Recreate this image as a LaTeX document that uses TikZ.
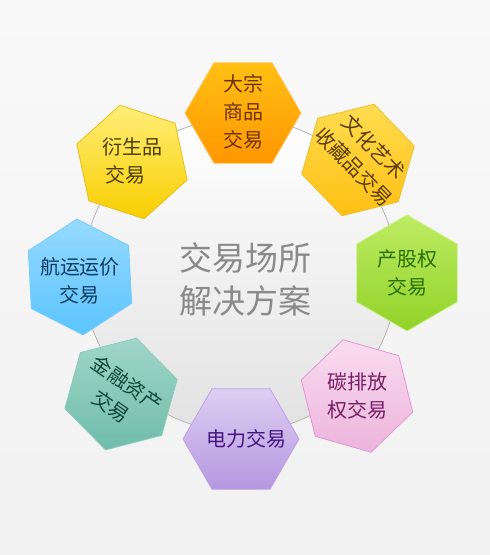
\documentclass[tikz,border=0pt]{standalone}
\usepackage{fontspec}
\newfontfamily\cjk{Noto Sans CJK SC}
\usetikzlibrary{shapes.geometric}

\definecolor{bgtop}{HTML}{F9F9F9}
\definecolor{bgbot}{HTML}{F1F1F1}
\definecolor{ringbot}{HTML}{E2E2E2}
\definecolor{ringline}{HTML}{AEAEAE}
\definecolor{midgray}{HTML}{8A8A8A}

\begin{document}
\begin{tikzpicture}[x=1pt,y=-1pt,
    hexa/.style={regular polygon,regular polygon sides=6,minimum size=116pt,inner sep=0pt,line width=0.8pt},
    hextext/.style={font=\cjk\fontsize{20}{28}\selectfont,align=center,inner sep=0pt}]
  \useasboundingbox (0,0) rectangle (490,555);
  \shade[top color=bgtop,bottom color=bgbot] (0,0) rectangle (490,555);
  \shadedraw[top color=white,bottom color=ringbot,draw=ringline,line width=0.7pt] (240,275) circle (157pt);

  % hexagons round the ring
  \node[hexa,top color={rgb,255:red,255;green,192;blue,20},bottom color={rgb,255:red,255;green,150;blue,0},draw={rgb,255:red,255;green,196;blue,90}] (dazong) at (243,113) {};
  \node[hexa,shape border rotate=14,top color={rgb,255:red,255;green,220;blue,80},bottom color={rgb,255:red,255;green,192;blue,20},draw={rgb,255:red,240;green,190;blue,40}] (wenhua) at (358,160) {};
  \node[hexa,shape border rotate=30,top color={rgb,255:red,190;green,236;blue,100},bottom color={rgb,255:red,145;green,210;blue,40},draw={rgb,255:red,200;green,240;blue,130}] (chanquan) at (407,273) {};
  \node[hexa,shape border rotate=-16,top color={rgb,255:red,250;green,220;blue,240},bottom color={rgb,255:red,236;green,180;blue,220},draw={rgb,255:red,228;green,150;blue,210}] (tanpai) at (357,396) {};
  \node[hexa,top color={rgb,255:red,222;green,206;blue,242},bottom color={rgb,255:red,180;green,152;blue,224},draw={rgb,255:red,190;green,160;blue,235}] (dianli) at (241,439) {};
  \node[hexa,shape border rotate=14.5,top color={rgb,255:red,160;green,214;blue,200},bottom color={rgb,255:red,112;green,188;blue,170},draw={rgb,255:red,140;green,205;blue,190}] (jinrong) at (121,394) {};
  \node[hexa,shape border rotate=33,top color={rgb,255:red,150;green,218;blue,255},bottom color={rgb,255:red,92;green,196;blue,255},draw={rgb,255:red,120;green,205;blue,255}] (hangyun) at (80,277) {};
  \node[hexa,shape border rotate=-18,top color={rgb,255:red,255;green,238;blue,120},bottom color={rgb,255:red,248;green,206;blue,0},draw={rgb,255:red,235;green,190;blue,20}] (yansheng) at (132,162) {};

  % labels
  \node[hextext,text={rgb,255:red,110;green,50;blue,0}] (dazong-t) at (243,112) {大宗\\商品\\交易};
  \node[hextext,rotate=-46,text={rgb,255:red,90;green,60;blue,0}] (wenhua-t) at (364,157) {文化艺术\\收藏品交易};
  \node[hextext,text={rgb,255:red,40;green,110;blue,0}] (chanquan-t) at (407,273) {产股权\\交易};
  \node[hextext,text={rgb,255:red,120;green,30;blue,100}] (tanpai-t) at (357,396) {碳排放\\权交易};
  \node[hextext,text={rgb,255:red,70;green,20;blue,130}] (dianli-t) at (246,439) {电力交易};
  \node[hextext,rotate=-35,text={rgb,255:red,15;green,70;blue,55}] (jinrong-t) at (119,395) {金融资产\\交易};
  \node[hextext,text={rgb,255:red,15;green,60;blue,95}] (hangyun-t) at (80,281) {航运运价\\交易};
  \node[hextext,align=left,text={rgb,255:red,75;green,60;blue,0}] (yansheng-t) at (132,161) {衍生品\\\,交易};

  \node[font=\cjk\fontsize{33}{43}\selectfont,align=center,text=midgray] (title) at (245,279) {交易场所\\解决方案};
\end{tikzpicture}
\end{document}
